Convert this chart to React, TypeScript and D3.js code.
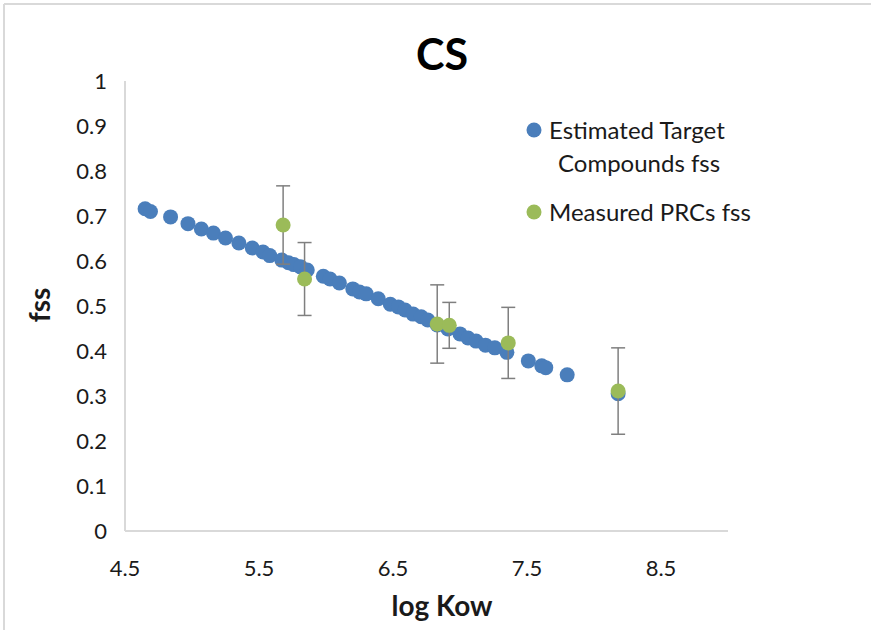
import React from "react";
import * as d3 from "d3";

// Estimated target compounds: log Kow vs fss
const targetLogKow = [
  4.65, 4.69, 4.84, 4.97, 5.07, 5.16, 5.25, 5.35, 5.45, 5.53, 5.58, 5.67, 5.72,
  5.76, 5.81, 5.86, 5.98, 6.03, 6.1, 6.2, 6.25, 6.3, 6.39, 6.48, 6.54, 6.59,
  6.65, 6.71, 6.76, 6.83, 6.91, 7.0, 7.06, 7.12, 7.19, 7.26, 7.35, 7.51, 7.61,
  7.64, 7.8, 8.18,
];
const targetFss = [
  0.716, 0.71, 0.698, 0.683, 0.671, 0.662, 0.651, 0.64, 0.629, 0.62, 0.612,
  0.602, 0.596, 0.592, 0.587, 0.58, 0.566, 0.56, 0.551, 0.538, 0.531, 0.527,
  0.516, 0.504, 0.498, 0.491, 0.482, 0.476, 0.469, 0.458, 0.449, 0.438, 0.429,
  0.422, 0.413, 0.407, 0.397, 0.378, 0.367, 0.363, 0.347, 0.305,
];

// Measured PRCs with error bars
const prcLogKow = [5.68, 5.84, 6.83, 6.92, 7.36, 8.18];
const prcFss = [0.68, 0.56, 0.46, 0.457, 0.418, 0.311];
const prcErr = [0.087, 0.081, 0.087, 0.051, 0.079, 0.096];

const xTicks = [4.5, 5.5, 6.5, 7.5, 8.5];
const yTicks = [0, 0.1, 0.2, 0.3, 0.4, 0.5, 0.6, 0.7, 0.8, 0.9, 1];

const W = 871;
const H = 630;
const FONT = "Lato, 'Open Sans', sans-serif";
const BLUE = "#4a7ebb";
const GREEN = "#9bbb59";
const AXIS = "#d9d9d9";
const TEXT = "#1a1a1a";

export default function App() {
  const x = d3.scaleLinear().domain([4.5, 9]).range([125, 728]);
  const y = d3.scaleLinear().domain([0, 1]).range([531, 81]);
  const r = 7.5;

  return (
    <svg
      width={W}
      height={H}
      style={{ position: "absolute", left: 0, top: 0, background: "#fff" }}
      fontFamily={FONT}
    >
      {/* chart area frame (top and left edges visible) */}
      <line x1={4} y1={4} x2={W} y2={4} stroke={AXIS} strokeWidth={2} />
      <line x1={4} y1={4} x2={4} y2={H} stroke={AXIS} strokeWidth={2} />

      {/* title */}
      <text x={442} y={70} textAnchor="middle" fontSize={43} fontWeight="bold" fill="#000">
        CS
      </text>

      {/* axes */}
      <line x1={x(4.5)} y1={y(0)} x2={x(9)} y2={y(0)} stroke={AXIS} strokeWidth={2} />
      <line x1={x(4.5)} y1={y(0)} x2={x(4.5)} y2={y(1)} stroke={AXIS} strokeWidth={2} />

      {yTicks.map((t) => (
        <text
          key={"y" + t}
          x={107}
          y={y(t)}
          dy="0.36em"
          textAnchor="end"
          fontSize={22}
          fill={TEXT}
        >
          {d3.format("")(t)}
        </text>
      ))}
      {xTicks.map((t) => (
        <text
          key={"x" + t}
          x={x(t)}
          y={568}
          dy="0.36em"
          textAnchor="middle"
          fontSize={22}
          fill={TEXT}
        >
          {d3.format(".1f")(t)}
        </text>
      ))}

      {/* axis titles */}
      <text x={442} y={616} textAnchor="middle" fontSize={28} fontWeight="bold" fill={TEXT}>
        log Kow
      </text>
      <text
        transform={`translate(50,305) rotate(-90)`}
        textAnchor="middle"
        fontSize={28}
        fontWeight="bold"
        fill={TEXT}
      >
        fss
      </text>

      {/* estimated target compounds */}
      {targetLogKow.map((k, i) => (
        <circle key={"b" + i} cx={x(k)} cy={y(targetFss[i])} r={r} fill={BLUE} />
      ))}

      {/* measured PRC error bars */}
      {prcLogKow.map((k, i) => {
        const cx = x(k);
        const y1 = y(prcFss[i] + prcErr[i]);
        const y2 = y(prcFss[i] - prcErr[i]);
        return (
          <g key={"e" + i} stroke="#7f7f7f" strokeWidth={1.5}>
            <line x1={cx} x2={cx} y1={y1} y2={y2} />
            <line x1={cx - 7} x2={cx + 7} y1={y1} y2={y1} />
            <line x1={cx - 7} x2={cx + 7} y1={y2} y2={y2} />
          </g>
        );
      })}
      {prcLogKow.map((k, i) => (
        <circle key={"g" + i} cx={x(k)} cy={y(prcFss[i])} r={r} fill={GREEN} />
      ))}

      {/* legend */}
      <circle cx={534} cy={130} r={7.5} fill={BLUE} />
      <text x={549} y={130} dy="0.36em" fontSize={24} fill={TEXT}>
        Estimated Target
      </text>
      <text x={558} y={163} dy="0.36em" fontSize={24} fill={TEXT}>
        Compounds fss
      </text>
      <circle cx={534} cy={212} r={7.5} fill={GREEN} />
      <text x={549} y={212} dy="0.36em" fontSize={24} fill={TEXT}>
        Measured PRCs fss
      </text>
    </svg>
  );
}
